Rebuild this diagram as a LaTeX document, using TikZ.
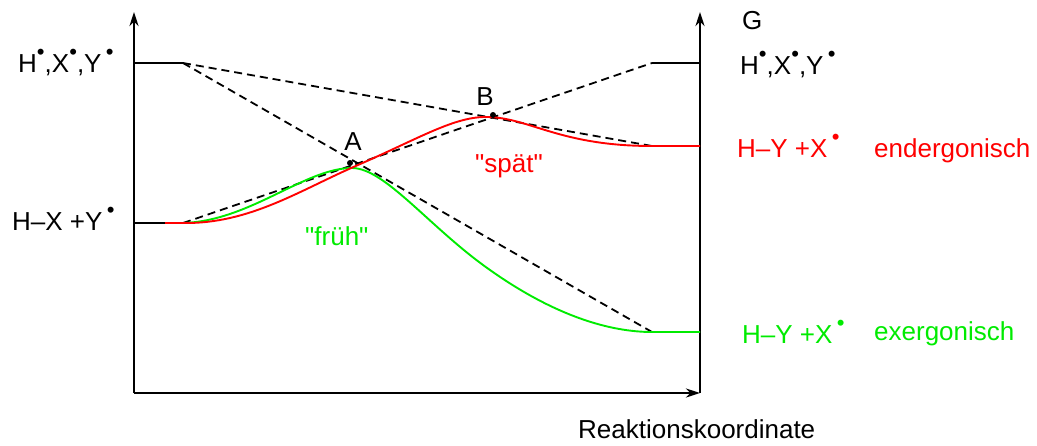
\documentclass[tikz,border=0pt]{standalone}
\usepackage{fontspec}
\setmainfont{Liberation Sans}[Ligatures=TeXOff]
\usetikzlibrary{arrows.meta}
\definecolor{myred}{RGB}{255,0,0}
\definecolor{mygreen}{RGB}{0,235,0}
\newcommand{\rad}{\raisebox{0.5em}{\scalebox{0.85}{•}}}
\begin{document}
\begin{tikzpicture}[x=1pt,y=-1pt,
  lbl/.style={font=\fontsize{26}{30}\selectfont, inner sep=0pt, anchor=base west},
  axis/.style={line width=2.6pt, -{Stealth[length=14pt,width=9pt]}},
  level/.style={line width=1.8pt},
  guide/.style={line width=1.8pt, dash pattern=on 8pt off 5pt},
  curve/.style={line width=1.9pt}]
\useasboundingbox (0,0) rectangle (1037,445);
% axes
\coordinate (O) at (134,393);
\coordinate (Ltop) at (134,12);
\coordinate (R) at (700,393);
\coordinate (Rtop) at (700,12);
\draw[axis] (O) -- (Ltop);
\draw[axis] (O) -- (R);
\draw[axis] (R) -- (Rtop);
% levels
\coordinate (TL0) at (134,63); \coordinate (TL) at (183,63);
\coordinate (TR) at (652,63); \coordinate (TR0) at (700,63);
\coordinate (HX0) at (134,223); \coordinate (HXc) at (165,223); \coordinate (HX) at (183,223);
\coordinate (EN) at (652,146); \coordinate (EN0) at (700,146);
\coordinate (EX) at (652,332); \coordinate (EX0) at (700,332);
\draw[level] (TL0) -- (TL);
\draw[level] (TR) -- (TR0);
\draw[level] (HX0) -- (HXc);
% dashed guides
\draw[guide] (TL) -- (EN);
\draw[guide] (TL) -- (EX);
\draw[guide] (HX) -- (TR);
% curves
\draw[curve, mygreen] (HXc) -- (HX) .. controls (250,221) and (305,168) .. (352,168)
  .. controls (385,168) and (430,228) .. (490,270)
  .. controls (555,316) and (610,332) .. (EX) -- (EX0);
\draw[curve, myred] (HXc) -- (HX) .. controls (250,224) and (300,190) .. (358,165)
  .. controls (420,138) and (455,116) .. (488,117)
  .. controls (530,118) and (560,146) .. (EN) -- (EN0);
% transition states
\fill (350,163) circle (3pt) coordinate (A);
\fill (493,115) circle (3pt) coordinate (B);
\node[lbl, anchor=base] (Alab) at (353,150) {A};
\node[lbl, anchor=base] (Blab) at (485,105) {B};
% labels
\node[lbl] (lt) at (18,72) {H\rad,X\rad,Y\,\rad};
\node[lbl] (lhx) at (12,230) {H–X +Y\,\rad};
\node[lbl] (G) at (742,29) {G};
\node[lbl] (rt) at (740,74) {H\rad,X\rad,Y\,\rad};
\node[lbl, myred] (ren) at (737,157) {H–Y +X\,\rad};
\node[lbl, myred] (ren2) at (874,157) {endergonisch};
\node[lbl, mygreen] (rex) at (742,343) {H–Y +X\,\rad};
\node[lbl, mygreen] (rex2) at (874,340) {exergonisch};
\node[lbl, mygreen] (frueh) at (305,245) {"früh"};
\node[lbl, myred] (spaet) at (475,172) {"spät"};
\node[lbl] (rk) at (578,438) {Reaktionskoordinate};
\end{tikzpicture}
\end{document}
